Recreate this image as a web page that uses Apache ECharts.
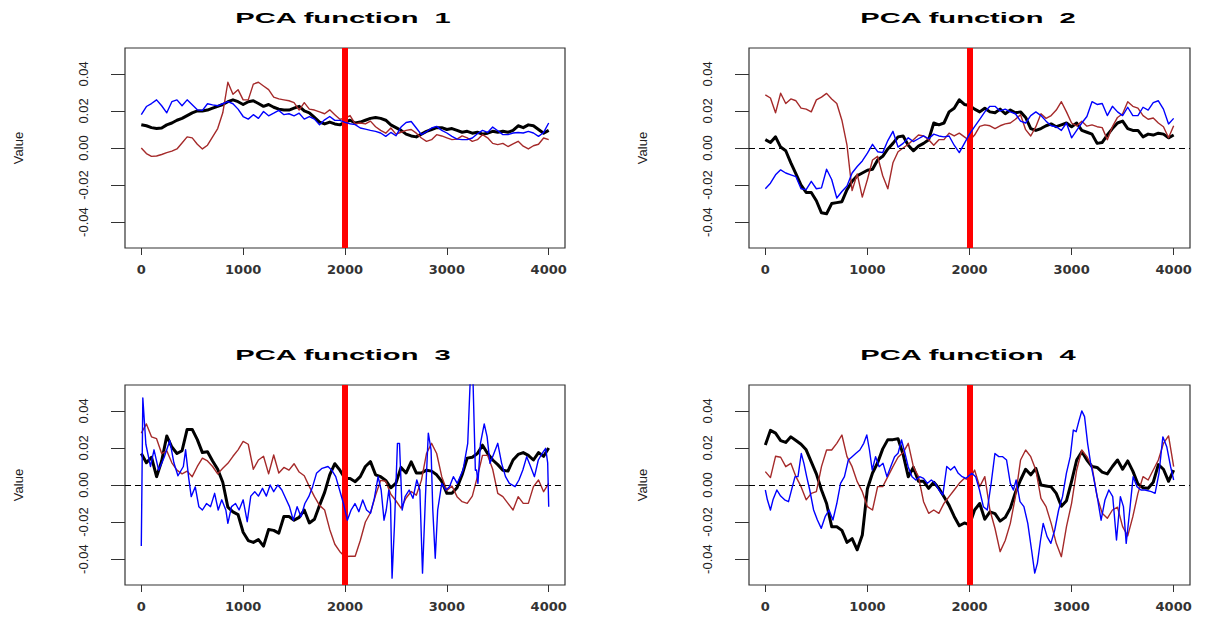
<!DOCTYPE html>
<html>
<head>
<meta charset="utf-8">
<title>PCA functions</title>
<script src="https://cdn.jsdelivr.net/npm/echarts@6.0.0/dist/echarts.min.js"></script>
<style>
  html, body { margin: 0; padding: 0; background: #ffffff; }
  #chart { width: 1211px; height: 619px; }
</style>
</head>
<body>
<div id="chart"></div>
<script>
// Sampling positions shared by the gridded curves (0 .. 4000, every 50)
const sampleX = [
  0, 50, 100, 150, 200, 250, 300, 350, 400, 450,
  500, 550, 600, 650, 700, 750, 800, 850, 900, 950,
  1000, 1050, 1100, 1150, 1200, 1250, 1300, 1350, 1400, 1450,
  1500, 1550, 1600, 1650, 1700, 1750, 1800, 1850, 1900, 1950,
  2000, 2050, 2100, 2150, 2200, 2250, 2300, 2350, 2400, 2450,
  2500, 2550, 2600, 2650, 2700, 2750, 2800, 2850, 2900, 2950,
  3000, 3050, 3100, 3150, 3200, 3250, 3300, 3350, 3400, 3450,
  3500, 3550, 3600, 3650, 3700, 3750, 3800, 3850, 3900, 3950,
  4000
];

const xTicks = [0, 1000, 2000, 3000, 4000];
const yTicks = [-0.04, -0.02, 0, 0.02, 0.04];
const panelTitles = ['PCA function  1', 'PCA function  2', 'PCA function  3', 'PCA function  4'];
const changePoint = 2000;

// ---- PCA function 1 ----
const pc1Black = [
  0.0126, 0.0120, 0.0110, 0.0105, 0.0108, 0.0125, 0.0135, 0.0150, 0.0160, 0.0175,
  0.0190, 0.0200, 0.0200, 0.0205, 0.0215, 0.0225, 0.0235, 0.0250, 0.0260, 0.0250,
  0.0235, 0.0250, 0.0255, 0.0240, 0.0225, 0.0235, 0.0220, 0.0210, 0.0205, 0.0205,
  0.0215, 0.0225, 0.0200, 0.0190, 0.0165, 0.0140, 0.0130, 0.0140, 0.0130, 0.0125,
  0.0140, 0.0150, 0.0135, 0.0140, 0.0150, 0.0160, 0.0165, 0.0160, 0.0150, 0.0125,
  0.0110, 0.0095, 0.0075, 0.0065, 0.0060, 0.0075, 0.0090, 0.0100, 0.0110, 0.0110,
  0.0100, 0.0105, 0.0095, 0.0085, 0.0090, 0.0080, 0.0085, 0.0075, 0.0080, 0.0090,
  0.0085, 0.0090, 0.0085, 0.0095, 0.0120, 0.0110, 0.0125, 0.0120, 0.0100, 0.0080,
  0.0095
];
const pc1Blue = [
  0.0180, 0.0224, 0.0240, 0.0260, 0.0228, 0.0190, 0.0250, 0.0260, 0.0228, 0.0260,
  0.0233, 0.0206, 0.0203, 0.0239, 0.0233, 0.0228, 0.0239, 0.0250, 0.0239, 0.0210,
  0.0170, 0.0156, 0.0180, 0.0160, 0.0197, 0.0174, 0.0188, 0.0203, 0.0180, 0.0185,
  0.0174, 0.0188, 0.0156, 0.0170, 0.0156, 0.0126, 0.0152, 0.0170, 0.0149, 0.0149,
  0.0138, 0.0131, 0.0126, 0.0108, 0.0102, 0.0095, 0.0090, 0.0081, 0.0063, 0.0084,
  0.0066, 0.0113, 0.0138, 0.0143, 0.0108, 0.0072, 0.0088, 0.0108, 0.0117, 0.0095,
  0.0081, 0.0063, 0.0048, 0.0045, 0.0045, 0.0054, 0.0077, 0.0095, 0.0084, 0.0113,
  0.0093, 0.0072, 0.0072, 0.0081, 0.0084, 0.0081, 0.0090, 0.0081, 0.0063, 0.0084,
  0.0135
];
const pc1Brown = [
  0.0000, -0.0030, -0.0045, -0.0043, -0.0035, -0.0025, -0.0017, -0.0005, 0.0027, 0.0060,
  0.0055, 0.0020, -0.0005, 0.0015, 0.0060, 0.0105, 0.0190, 0.0355, 0.0290, 0.0315,
  0.0260, 0.0260, 0.0345, 0.0355, 0.0335, 0.0315, 0.0275, 0.0265, 0.0260, 0.0255,
  0.0245, 0.0205, 0.0245, 0.0210, 0.0205, 0.0195, 0.0185, 0.0206, 0.0180, 0.0155,
  0.0160, 0.0175, 0.0130, 0.0135, 0.0130, 0.0145, 0.0115, 0.0095, 0.0080, 0.0108,
  0.0075, 0.0085, 0.0095, 0.0100, 0.0080, 0.0054, 0.0036, 0.0045, 0.0072, 0.0065,
  0.0055, 0.0045, 0.0048, 0.0065, 0.0055, 0.0036, 0.0045, 0.0072, 0.0055, 0.0025,
  0.0018, 0.0025, 0.0008, 0.0022, 0.0036, 0.0010, -0.0005, 0.0012, 0.0020, 0.0054,
  0.0045
];

// ---- PCA function 2 ----
const pc2Black = [
  0.0045, 0.0030, 0.0060, 0.0005, -0.0015, -0.0080, -0.0140, -0.0200, -0.0240, -0.0240,
  -0.0285, -0.0350, -0.0355, -0.0300, -0.0295, -0.0290, -0.0225, -0.0180, -0.0150, -0.0135,
  -0.0120, -0.0115, -0.0065, -0.0045, -0.0005, 0.0025, 0.0060, 0.0065, 0.0015, -0.0015,
  0.0010, 0.0025, 0.0045, 0.0135, 0.0125, 0.0135, 0.0195, 0.0215, 0.0260, 0.0235,
  0.0230, 0.0210, 0.0195, 0.0215, 0.0195, 0.0190, 0.0210, 0.0185, 0.0205, 0.0190,
  0.0195, 0.0165, 0.0105, 0.0095, 0.0105, 0.0120, 0.0130, 0.0115, 0.0125, 0.0135,
  0.0115, 0.0135, 0.0095, 0.0085, 0.0075, 0.0025, 0.0030, 0.0070, 0.0105, 0.0135,
  0.0145, 0.0105, 0.0095, 0.0095, 0.0060, 0.0075, 0.0070, 0.0080, 0.0075, 0.0055,
  0.0070
];
const pc2Blue = [
  -0.0220, -0.0190, -0.0145, -0.0118, -0.0135, -0.0145, -0.0155, -0.0220, -0.0225, -0.0180,
  -0.0220, -0.0215, -0.0115, -0.0170, -0.0270, -0.0235, -0.0205, -0.0135, -0.0100, -0.0070,
  -0.0028, 0.0020, -0.0020, -0.0025, 0.0040, 0.0090, 0.0005, 0.0025, 0.0055, 0.0035,
  0.0050, 0.0065, 0.0050, 0.0075, 0.0065, 0.0060, 0.0065, 0.0015, -0.0025, 0.0025,
  0.0075, 0.0115, 0.0155, 0.0195, 0.0225, 0.0225, 0.0200, 0.0210, 0.0195, 0.0185,
  0.0145, 0.0135, 0.0175, 0.0195, 0.0175, 0.0145, 0.0120, 0.0115, 0.0095, 0.0135,
  0.0055, 0.0095, 0.0135, 0.0170, 0.0250, 0.0235, 0.0240, 0.0175, 0.0225, 0.0195,
  0.0175, 0.0220, 0.0175, 0.0175, 0.0220, 0.0205, 0.0245, 0.0255, 0.0210, 0.0130,
  0.0160
];
const pc2Brown = [
  0.0287, 0.0270, 0.0190, 0.0296, 0.0240, 0.0265, 0.0255, 0.0215, 0.0210, 0.0195,
  0.0260, 0.0275, 0.0295, 0.0265, 0.0240, 0.0150, 0.0015, -0.0230, -0.0140, -0.0265,
  -0.0170, -0.0065, -0.0045, -0.0150, -0.0220, -0.0080, -0.0020, 0.0000, 0.0020, 0.0045,
  0.0070, 0.0065, 0.0045, 0.0015, 0.0045, 0.0045, 0.0080, 0.0065, 0.0080, 0.0060,
  0.0040, 0.0070, 0.0117, 0.0125, 0.0120, 0.0105, 0.0120, 0.0130, 0.0135, 0.0155,
  0.0180, 0.0099, 0.0065, 0.0115, 0.0185, 0.0160, 0.0175, 0.0205, 0.0250, 0.0195,
  0.0135, 0.0120, 0.0145, 0.0118, 0.0125, 0.0115, 0.0110, 0.0045, 0.0115, 0.0165,
  0.0185, 0.0250, 0.0225, 0.0215, 0.0175, 0.0155, 0.0162, 0.0135, 0.0115, 0.0055,
  0.0120
];

// ---- PCA function 3 ----
const pc3Black = [
  0.0170, 0.0120, 0.0150, 0.0045, 0.0130, 0.0265, 0.0205, 0.0170, 0.0185, 0.0300,
  0.0300, 0.0245, 0.0175, 0.0180, 0.0130, 0.0085, 0.0015, -0.0120, -0.0145, -0.0160,
  -0.0255, -0.0300, -0.0310, -0.0295, -0.0330, -0.0240, -0.0245, -0.0260, -0.0170, -0.0170,
  -0.0190, -0.0175, -0.0135, -0.0205, -0.0185, -0.0110, -0.0040, 0.0055, 0.0115, 0.0080,
  0.0035, 0.0035, 0.0018, 0.0045, 0.0100, 0.0126, 0.0055, 0.0045, 0.0025, -0.0015,
  0.0010, 0.0095, 0.0065, 0.0125, 0.0065, 0.0065, 0.0080, 0.0075, 0.0055, 0.0020,
  -0.0045, -0.0045, -0.0015, 0.0055, 0.0145, 0.0150, 0.0170, 0.0215, 0.0170, 0.0135,
  0.0110, 0.0080, 0.0075, 0.0135, 0.0165, 0.0175, 0.0160, 0.0135, 0.0175, 0.0155,
  0.0200
];
const pc3Brown = [
  0.0280, 0.0330, 0.0260, 0.0250, 0.0170, 0.0185, 0.0120, 0.0080, 0.0060, 0.0075,
  0.0045, 0.0100, 0.0145, 0.0130, 0.0100, 0.0060, 0.0090, 0.0117, 0.0155, 0.0190,
  0.0235, 0.0220, 0.0085, 0.0135, 0.0155, 0.0060, 0.0162, 0.0065, 0.0095, 0.0080,
  0.0115, 0.0070, 0.0050, -0.0009, -0.0063, -0.0110, -0.0135, -0.0240, -0.0320, -0.0360,
  -0.0387, -0.0385, -0.0385, -0.0300, -0.0200, -0.0150, -0.0055, 0.0025, 0.0020, -0.0050,
  -0.0085, -0.0125, -0.0070, -0.0035, -0.0055, 0.0025, 0.0170, 0.0225, 0.0170, 0.0045,
  -0.0030, -0.0005, -0.0063, -0.0090, -0.0099, -0.0060, 0.0045, 0.0160, 0.0160, 0.0085,
  -0.0045, -0.0063, -0.0099, -0.0135, -0.0063, -0.0099, -0.0099, -0.0009, 0.0027, -0.0036,
  0.0009
];
// the blue curve of function 3 is spiky, so it is kept as [position, value] pairs
const pc3Blue = [
  [0, -0.033], [15, 0.047], [45, 0.022], [90, 0.010], [125, 0.019], [170, 0.008],
  [225, 0.015], [280, 0.024], [320, 0.012], [360, 0.005], [413, 0.010], [435, 0.019],
  [465, 0.004], [490, -0.0063], [530, -0.001], [565, -0.0117], [600, -0.0135], [640, -0.010],
  [680, -0.0117], [720, -0.0045], [755, -0.0135], [790, -0.008], [830, -0.0135], [850, -0.0207],
  [886, -0.0117], [925, -0.010], [960, -0.0135], [1000, -0.008], [1040, -0.0198], [1075, -0.006],
  [1114, -0.0036], [1150, -0.006], [1190, -0.0018], [1228, -0.006], [1265, 0.0], [1300, -0.0036],
  [1341, 0.0], [1380, -0.0027], [1417, -0.0072], [1455, -0.0117], [1492, -0.019], [1530, -0.0117],
  [1568, -0.0171], [1606, -0.010], [1644, -0.0063], [1682, -0.0009], [1720, 0.0063], [1775, 0.009],
  [1833, 0.010], [1870, 0.008], [1909, 0.0045], [1947, -0.0027], [1985, -0.010], [2023, -0.019],
  [2060, -0.0135], [2098, -0.010], [2136, -0.0144], [2174, -0.0081], [2212, -0.0135], [2250, -0.0153],
  [2288, -0.0072], [2325, 0.0045], [2355, -0.0027], [2383, -0.019], [2405, -0.0135], [2430, -0.0027],
  [2447, -0.010], [2462, -0.0503], [2485, -0.0225], [2515, 0.0225], [2535, 0.0225], [2561, -0.0135],
  [2590, -0.0063], [2630, -0.0027], [2667, -0.0072], [2705, 0.0027], [2735, -0.0027], [2761, -0.0476],
  [2790, -0.0063], [2818, 0.028], [2845, 0.019], [2862, -0.0135], [2886, -0.0396], [2910, -0.0135],
  [2950, 0.0009], [2990, -0.0027], [3026, -0.0009], [3064, 0.0045], [3102, 0.0009], [3159, 0.0081],
  [3205, 0.0225], [3232, 0.060], [3255, 0.060], [3280, 0.008], [3292, 0.0081], [3305, 0.0009],
  [3330, 0.0225], [3367, 0.033], [3395, 0.0261], [3424, 0.0117], [3462, 0.017], [3500, 0.0225],
  [3538, 0.0117], [3576, 0.0045], [3614, 0.0009], [3670, -0.0009], [3708, 0.0027], [3746, 0.0081],
  [3784, 0.0153], [3822, 0.010], [3860, 0.0045], [3898, 0.0135], [3936, 0.0171], [3970, 0.0198],
  [3990, 0.012], [4000, -0.0117]
];

// ---- PCA function 4 ----
const pc4Black = [
  0.0216, 0.0295, 0.0280, 0.0240, 0.0230, 0.0260, 0.0240, 0.0220, 0.0190, 0.0125,
  0.0060, -0.0027, -0.0100, -0.0225, -0.0225, -0.0245, -0.0310, -0.0290, -0.0350, -0.0270,
  -0.0020, 0.0065, 0.0120, 0.0195, 0.0245, 0.0245, 0.0250, 0.0165, 0.0045, 0.0095,
  0.0020, 0.0020, -0.0018, 0.0015, -0.0018, -0.0063, -0.0110, -0.0170, -0.0220, -0.0205,
  -0.0215, -0.0135, -0.0100, -0.0185, -0.0145, -0.0155, -0.0195, -0.0175, -0.0125, -0.0040,
  0.0027, 0.0085, 0.0055, 0.0090, 0.0000, -0.0005, -0.0010, -0.0045, -0.0115, -0.0085,
  0.0020, 0.0135, 0.0180, 0.0135, 0.0100, 0.0095, 0.0070, 0.0060, 0.0100, 0.0135,
  0.0085, 0.0130, 0.0075, 0.0005, -0.0015, -0.0018, 0.0015, 0.0110, 0.0085, 0.0020,
  0.0080
];
const pc4Brown = [
  0.0072, 0.0040, 0.0155, 0.0150, 0.0099, 0.0117, 0.0045, -0.0009, -0.0080, -0.0045,
  -0.0036, 0.0099, 0.0189, 0.0189, 0.0225, 0.0270, 0.0153, 0.0099, 0.0018, -0.0036,
  -0.0117, -0.0135, -0.0009, -0.0009, 0.0045, 0.0099, 0.0150, 0.0175, 0.0225, 0.0099,
  0.0045, -0.0090, -0.0153, -0.0135, -0.0153, -0.0099, -0.0063, -0.0027, 0.0009, 0.0036,
  0.0027, 0.0081, -0.0009, 0.0045, -0.0135, -0.0235, -0.0360, -0.0300, -0.0207, -0.0063,
  0.0135, 0.0189, 0.0153, 0.0081, -0.0072, -0.0117, -0.0207, -0.0315, -0.0387, -0.0225,
  -0.0099, 0.0081, 0.0189, 0.0153, 0.0099, -0.0063, -0.0153, -0.0180, -0.0135, -0.0120,
  -0.0225, -0.0275, -0.0171, -0.0045, 0.0045, 0.0027, 0.0081, 0.0135, 0.0225, 0.0265,
  0.0099
];
const pc4Blue = [
  [0, -0.0027], [20, -0.008], [50, -0.0135], [75, -0.008], [113, -0.0027], [150, -0.006],
  [189, -0.008], [227, -0.009], [265, -0.0009], [291, 0.0045], [320, 0.0045], [352, 0.017],
  [378, 0.0117], [405, 0.0045], [435, -0.0027], [473, -0.0135], [510, -0.0189], [548, -0.0234],
  [586, -0.0171], [624, -0.0135], [662, -0.0189], [700, -0.010], [737, 0.0009], [775, 0.0045],
  [813, 0.0135], [850, 0.0153], [888, 0.0171], [926, 0.0189], [964, 0.0225], [994, 0.027],
  [1020, 0.0189], [1047, 0.0081], [1080, 0.0153], [1115, 0.0099], [1153, 0.0117], [1191, 0.0045],
  [1228, 0.0099], [1266, 0.0153], [1300, 0.0171], [1334, 0.0243], [1360, 0.0189], [1399, 0.0099],
  [1437, 0.0045], [1474, 0.0027], [1512, 0.0045], [1550, 0.0036], [1588, 0.0009], [1626, 0.0027],
  [1664, 0.0009], [1701, -0.0027], [1739, -0.0054], [1777, 0.010], [1815, 0.0081], [1853, 0.010],
  [1890, 0.0063], [1928, 0.0045], [1966, 0.0036], [2023, 0.0063], [2060, 0.0045], [2098, -0.0027],
  [2136, -0.0117], [2174, -0.0135], [2212, 0.0009], [2249, 0.017], [2287, 0.0153], [2325, 0.0153],
  [2363, 0.0135], [2400, 0.0009], [2430, -0.0027], [2457, 0.0027], [2495, -0.009], [2533, -0.0117],
  [2571, -0.0207], [2608, -0.0351], [2639, -0.0476], [2665, -0.0423], [2696, -0.0297], [2722, -0.0207],
  [2760, -0.0279], [2797, -0.0315], [2835, -0.0243], [2873, -0.0135], [2911, -0.0063], [2949, 0.0063],
  [2987, 0.0153], [3017, 0.0297], [3045, 0.0288], [3074, 0.035], [3100, 0.040], [3127, 0.0369],
  [3157, 0.0225], [3187, 0.0117], [3214, 0.0045], [3251, -0.0063], [3289, -0.019], [3327, -0.0081],
  [3365, -0.0027], [3403, -0.0063], [3440, -0.0297], [3478, -0.0063], [3508, -0.0117], [3535, -0.0315],
  [3570, -0.0135], [3603, 0.0045], [3641, -0.0009], [3680, -0.0027], [3720, -0.0027], [3781, -0.0036],
  [3818, -0.0045], [3856, 0.0063], [3894, 0.026], [3932, 0.0207], [3970, 0.0099], [4000, 0.0027]
];

// pair gridded values with their sampling positions
function onSampleGrid(values) {
  return values.map(function (v, i) { return [sampleX[i], v]; });
}

const panels = [
  { title: panelTitles[0], black: onSampleGrid(pc1Black), brown: onSampleGrid(pc1Brown), blue: onSampleGrid(pc1Blue), zeroLine: false },
  { title: panelTitles[1], black: onSampleGrid(pc2Black), brown: onSampleGrid(pc2Brown), blue: onSampleGrid(pc2Blue), zeroLine: true },
  { title: panelTitles[2], black: onSampleGrid(pc3Black), brown: onSampleGrid(pc3Brown), blue: pc3Blue, zeroLine: true },
  { title: panelTitles[3], black: onSampleGrid(pc4Black), brown: onSampleGrid(pc4Brown), blue: pc4Blue, zeroLine: true }
];

// plot boxes (left, top, width, height) and title anchors
const boxes = [
  { left: 125, top: 48, width: 440, height: 200, titleX: 343, titleY: 18 },
  { left: 749, top: 48, width: 441, height: 200, titleX: 968, titleY: 18 },
  { left: 125, top: 385, width: 440, height: 200, titleX: 343, titleY: 355 },
  { left: 749, top: 385, width: 441, height: 200, titleX: 968, titleY: 355 }
];

const grids = [], xAxes = [], yAxes = [], series = [], graphics = [];

panels.forEach(function (p, i) {
  const b = boxes[i];
  grids.push({
    left: b.left, top: b.top, width: b.width, height: b.height,
    show: true, borderColor: '#333333', borderWidth: 1.2, backgroundColor: 'transparent'
  });
  xAxes.push({
    type: 'value', gridIndex: i, min: -160, max: 4160,
    axisLine: { show: false, onZero: false },
    splitLine: { show: false },
    axisTick: { show: true, inside: false, length: 7, customValues: xTicks,
      lineStyle: { color: '#333333', width: 1 } },
    axisLabel: { show: true, customValues: xTicks, margin: 15,
      fontFamily: 'DejaVu Sans', fontSize: 13, fontWeight: 'bold', color: '#333333',
      formatter: function (v) { return String(v); } }
  });
  yAxes.push({
    type: 'value', gridIndex: i, min: -0.054, max: 0.054,
    name: 'Value', nameLocation: 'middle', nameRotate: 90, nameGap: 100,
    nameTextStyle: { fontFamily: 'Liberation Sans', fontSize: 13, color: '#222222' },
    axisLine: { show: false, onZero: false },
    splitLine: { show: false },
    axisTick: { show: true, inside: false, length: 14, customValues: yTicks,
      lineStyle: { color: '#333333', width: 1 } },
    axisLabel: { show: true, customValues: yTicks, rotate: 90, margin: 35,
      fontFamily: 'Liberation Sans', fontSize: 13, color: '#222222',
      formatter: function (v) { return Number(v).toFixed(2); } }
  });

  const common = { type: 'line', xAxisIndex: i, yAxisIndex: i, showSymbol: false, symbol: 'none',
    smooth: false, silent: true, animation: false, clip: true };

  series.push(Object.assign({}, common, { name: 'mean ' + (i + 1), data: p.black, z: 3,
    lineStyle: { color: '#000000', width: 3, join: 'round' } }));
  series.push(Object.assign({}, common, { name: 'brown ' + (i + 1), data: p.brown, z: 4,
    lineStyle: { color: '#A52A2A', width: 1.4, join: 'round' } }));
  series.push(Object.assign({}, common, { name: 'blue ' + (i + 1), data: p.blue, z: 5,
    lineStyle: { color: '#0000FF', width: 1.4, join: 'round' } }));

  const marks = [{ xAxis: changePoint, lineStyle: { color: '#FF0000', width: 6, type: 'solid' } }];
  if (p.zeroLine) {
    marks.unshift({ yAxis: 0, lineStyle: { color: '#000000', width: 1, type: [6, 4] } });
  }
  series.push(Object.assign({}, common, { name: 'marks ' + (i + 1), data: [], z: 6,
    markLine: { silent: true, symbol: ['none', 'none'], animation: false,
      label: { show: false }, emphasis: { disabled: true }, data: marks } }));

  // bold title, drawn wide as in the original R device
  graphics.push({
    type: 'text', x: b.titleX, y: b.titleY, scaleX: 2.08, scaleY: 1,
    silent: true,
    style: { text: p.title, font: 'bold 14px "Liberation Sans"', fill: '#000000',
      textAlign: 'center', textVerticalAlign: 'middle' }
  });
});

const chart = echarts.init(document.getElementById('chart'), null, { renderer: 'svg' });
chart.setOption({
  backgroundColor: '#ffffff',
  animation: false,
  grid: grids,
  xAxis: xAxes,
  yAxis: yAxes,
  series: series,
  graphic: graphics
});
</script>
</body>
</html>
